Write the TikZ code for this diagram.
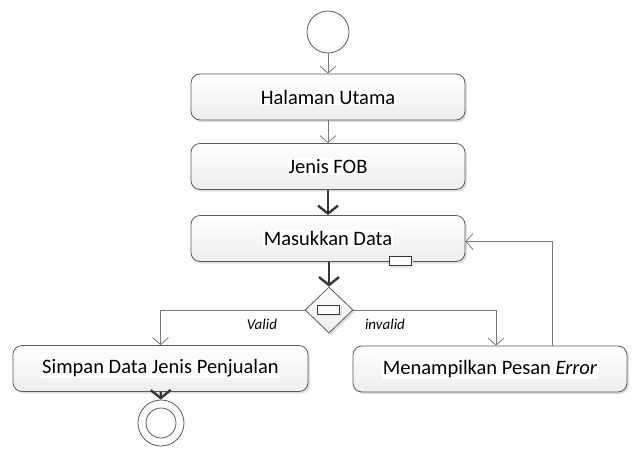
\documentclass[tikz,border=0pt]{standalone}
\usepackage{fontspec}
\setmainfont{Carlito}
\usetikzlibrary{shapes.geometric,arrows.meta,shadows}
\definecolor{edge}{RGB}{90,90,90}
\definecolor{thinline}{RGB}{120,120,120}
\definecolor{heavy}{RGB}{55,55,55}
\newcommand{\wbox}[1]{{\setlength{\fboxsep}{1pt}\colorbox{white}{#1}}}
\tikzset{
  action/.style={draw=edge, line width=0.8pt, rounded corners=9pt,
    top color=white, bottom color=gray!14,
    drop shadow={shadow xshift=2pt, shadow yshift=-2pt, fill=gray!25, opacity=1},
    minimum height=46pt, font=\fontsize{20.5}{23}\selectfont, inner sep=0pt},
  decision/.style={diamond, draw=edge, line width=0.8pt, top color=white, bottom color=gray!14,
    drop shadow={shadow xshift=2pt, shadow yshift=-2pt, fill=gray!25, opacity=1},
    minimum width=48pt, minimum height=46pt, inner sep=0pt},
  pin/.style={draw=heavy, line width=0.8pt, fill=white, minimum width=22pt, minimum height=9pt, inner sep=0pt,
    drop shadow={shadow xshift=2pt, shadow yshift=-2pt, fill=gray!20, opacity=1}},
  flow/.style={draw=thinline, line width=0.8pt, -{Straight Barb[length=7pt,width=16pt]}},
  bold/.style={draw=heavy, line width=2.4pt, -{Straight Barb[length=8pt,width=20pt,line width=2.4pt]}},
  guard/.style={font=\fontsize{15}{17}\selectfont\itshape},
}
\begin{document}
\begin{tikzpicture}[x=1pt,y=-1pt]
\useasboundingbox (0,0) rectangle (632,464);

% initial node
\node[circle, draw=edge, line width=0.8pt, fill=white, minimum size=42pt, inner sep=0pt] (start) at (328,32) {};

% actions
\node[action, minimum width=274pt] (home) at (328,97) {\wbox{Halaman Utama}};
\node[action, minimum width=274pt] (fob) at (328,166.5) {\wbox{Jenis FOB}};
\node[action, minimum width=274pt] (input) at (328,238.5) {\wbox{Masukkan Data}};
\node[pin] (inpin) at (400,261) {};

% decision
\node[decision] (dec) at (329,310) {};
\node[pin] (decpin) at (328.5,309.5) {};

\node[action, minimum width=295pt] (save) at (160.5,368.5) {\wbox{Simpan Data Jenis Penjualan}};
\node[action, minimum width=274pt] (err) at (490,369) {\wbox{Menampilkan Pesan \textit{Error}}};

% final node
\node[circle, draw=edge, line width=0.8pt, fill=white, minimum size=46pt, inner sep=0pt] (end) at (161,423) {};
\node[circle, draw=edge, line width=0.8pt, fill=white, minimum size=30pt, inner sep=0pt] (endin) at (end.center) {};

% control flows
\draw[flow] (start) -- (home);
\draw[flow] (home) -- (fob);
\draw[bold] (fob) -- (input);
\draw[bold] (input.south -| dec.north) -- (dec.north);
\draw[flow] (dec.west) -| (save.north);
\draw[flow] (dec.east) -| ([xshift=6pt]err.north);
\draw[flow] ([xshift=62pt]err.north) |- ([yshift=-3pt]input.east);
\draw[bold] (save) -- (end);

% guards
\node[guard] (gvalid) at (262,324) {Valid};
\node[guard] (ginvalid) at (385,324) {invalid};
\end{tikzpicture}
\end{document}
